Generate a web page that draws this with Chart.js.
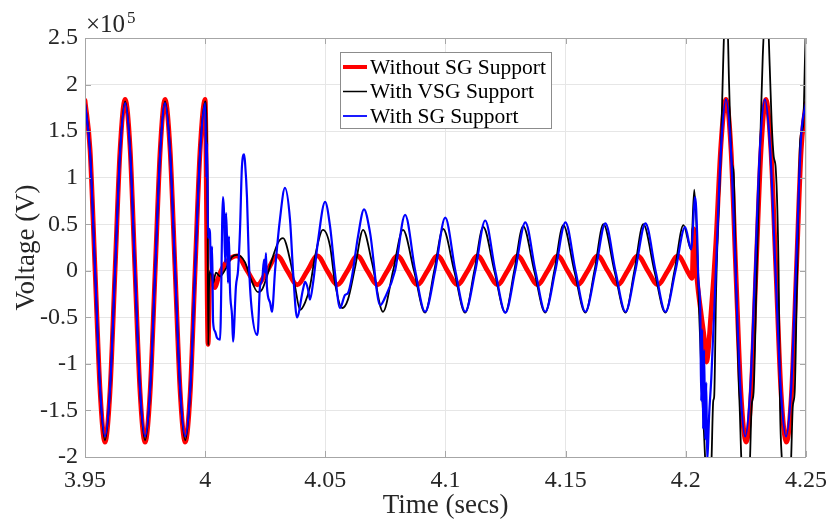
<!DOCTYPE html>
<html>
<head>
<meta charset="utf-8">
<script src="https://cdn.jsdelivr.net/npm/chart.js@4.4.1/dist/chart.umd.min.js"></script>
<style>
  body { margin: 0; background: #fff; }
  canvas { display: block; }
</style>
</head>
<body>
<canvas id="myChart" width="829" height="522"></canvas>
<script>
// values, voltage in units of 1e5 V
const xTickVals = [3.95, 4.0, 4.05, 4.1, 4.15, 4.2, 4.25];
const xTickLabels = ['3.95', '4', '4.05', '4.1', '4.15', '4.2', '4.25'];
const yTickVals = [-2, -1.5, -1, -0.5, 0, 0.5, 1, 1.5, 2, 2.5];
const yTickLabels = ['-2', '-1.5', '-1', '-0.5', '0', '0.5', '1', '1.5', '2', '2.5'];

const seriesLabels = ['Without SG Support', 'With VSG Support', 'With SG Support'];

// Without SG support (red)
const redT = [
  3.9500, 3.9521, 3.9542, 3.9563, 3.9583, 3.9604, 3.9625, 3.9646, 3.9667, 3.9688,
  3.9708, 3.9729, 3.9750, 3.9771, 3.9792, 3.9813, 3.9833, 3.9854, 3.9875, 3.9896,
  3.9917, 3.9938, 3.9958, 3.9979, 4.0000,
  4.0012, 4.0020, 4.0029, 4.0041, 4.0054, 4.0070, 4.0090,
  4.0133, 4.0175, 4.0217, 4.0258, 4.0300, 4.0342, 4.0383, 4.0425, 4.0467, 4.0508,
  4.0550, 4.0592, 4.0633, 4.0675, 4.0717, 4.0758, 4.0800, 4.0842, 4.0883, 4.0925,
  4.0967, 4.1008, 4.1050, 4.1092, 4.1133, 4.1175, 4.1217, 4.1258, 4.1300, 4.1342,
  4.1383, 4.1425, 4.1467, 4.1508, 4.1550, 4.1592, 4.1633, 4.1675, 4.1717, 4.1758,
  4.1800, 4.1842, 4.1883, 4.1925, 4.1967,
  4.2010, 4.2026, 4.2033, 4.2047, 4.2064, 4.2080, 4.2086, 4.2105, 4.2125, 4.2146,
  4.2167, 4.2188, 4.2208, 4.2229, 4.2251, 4.2272, 4.2292, 4.2313, 4.2333, 4.2354,
  4.2375, 4.2396, 4.2419, 4.2440, 4.2460, 4.2480, 4.2500
];
const redV = [
  1.83, 1.30, 0, -1.30, -1.84, -1.30, 0, 1.30, 1.84, 1.30,
  0, -1.30, -1.84, -1.30, 0, 1.30, 1.84, 1.30, 0, -1.30,
  -1.84, -1.30, 0, 1.30, 1.84,
  -0.79, -0.04, -0.06, -0.18, -0.08, 0.02, 0.10,
  0.16, 0, -0.15, 0, 0.16, 0, -0.15, 0, 0.16, 0,
  -0.15, 0, 0.16, 0, -0.15, 0, 0.16, 0, -0.15, 0,
  0.16, 0, -0.15, 0, 0.16, 0, -0.15, 0, 0.16, 0,
  -0.15, 0, 0.16, 0, -0.15, 0, 0.16, 0, -0.15, 0,
  0.16, 0, -0.15, 0, 0.16,
  -0.02, -0.08, 0.45, -0.10, -0.47, -0.80, -0.98, -0.45, 0.30, 1.35,
  1.84, 1.30, 0, -1.30, -1.84, -1.30, 0, 1.30, 1.84, 1.30,
  0, -1.30, -1.84, -1.30, 0, 1.30, 1.80
];

// With VSG support (black)
const vsgT = [
  3.9500, 3.9521, 3.9542, 3.9563, 3.9583, 3.9604, 3.9625, 3.9646, 3.9667, 3.9688,
  3.9708, 3.9729, 3.9750, 3.9771, 3.9792, 3.9813, 3.9833, 3.9854, 3.9875, 3.9896,
  3.9917, 3.9938, 3.9958, 3.9979, 4.0000,
  4.0010, 4.0013, 4.0016, 4.0024, 4.0033, 4.0045, 4.0062, 4.0083, 4.0112, 4.0133,
  4.0166, 4.0186, 4.0220, 4.0237, 4.0257, 4.0278, 4.0303, 4.0324, 4.0353, 4.0374,
  4.0395, 4.0416, 4.0436, 4.0457, 4.0490, 4.0520, 4.0540, 4.0570, 4.0594, 4.0624,
  4.0657, 4.0694, 4.0740,
  4.0782, 4.0823, 4.0869, 4.0915, 4.0953, 4.0990, 4.1036, 4.1082, 4.1120, 4.1157,
  4.1203, 4.1249, 4.1286, 4.1323, 4.1369, 4.1415, 4.1453, 4.1490, 4.1536, 4.1582,
  4.1620, 4.1657, 4.1703, 4.1749, 4.1786, 4.1823, 4.1869, 4.1915, 4.1953, 4.1990,
  4.2022, 4.2035, 4.2047, 4.2056, 4.2068, 4.2080, 4.2089, 4.2097, 4.2106, 4.2114,
  4.2118, 4.2126, 4.2147, 4.2155, 4.2163, 4.2172, 4.2180, 4.2191, 4.2199, 4.2208,
  4.2220, 4.2224, 4.2232, 4.2245, 4.2257, 4.2266, 4.2274, 4.2282, 4.2295, 4.2312,
  4.2320, 4.2330, 4.2340, 4.2349, 4.2357, 4.2366, 4.2374, 4.2386, 4.2392, 4.2400,
  4.2412, 4.2424, 4.2437, 4.2445, 4.2453, 4.2462, 4.2474, 4.2480, 4.2488, 4.2496,
  4.2500
];
const vsgV = [
  1.81, 1.29, 0, -1.29, -1.82, -1.29, 0, 1.29, 1.82, 1.29,
  0, -1.29, -1.82, -1.29, 0, 1.29, 1.82, 1.29, 0, -1.29,
  -1.82, -1.29, 0, 1.29, 1.82,
  0.69, -0.80, -0.17, 0.01, -0.13, -0.02, -0.06, 0.01, 0.15, 0.17,
  0.09, -0.06, -0.23, -0.20, -0.06, 0.12, 0.30, 0.35, 0.12, -0.17,
  -0.42, -0.34, -0.17, 0.15, 0.44, 0.26, -0.13, -0.40, -0.31, 0.04,
  0.44, 0.09, -0.44,
  0, 0.44, 0, -0.45, 0, 0.45, 0, -0.45, 0, 0.47,
  0, -0.45, 0, 0.48, 0, -0.45, 0, 0.49, 0, -0.45,
  0, 0.50, 0, -0.45, 0, 0.50, 0, -0.45, 0, 0.49,
  0.23, 0.87, 0.30, -0.50, -1.30, -2.00, -2.30, -2.35, -2.10, -1.40,
  -1.35, -0.20, 1.40, 2.20, 2.75, 2.75, 2.00, 1.17, 1.05, 0.00,
  -1.20, -1.46, -2.10, -2.50, -2.50, -2.10, -1.45, -1.30, 0.00, 1.60,
  2.30, 2.75, 2.75, 2.20, 1.60, 1.22, 1.10, 0.00, -1.46, -2.05,
  -2.50, -2.50, -2.10, -1.46, -1.30, -0.20, 1.30, 1.48, 1.55, 2.30,
  2.70
];

// With SG support (blue)
const sgT = [
  3.9500, 3.9521, 3.9542, 3.9563, 3.9583, 3.9604, 3.9625, 3.9646, 3.9667, 3.9688,
  3.9708, 3.9729, 3.9750, 3.9771, 3.9792, 3.9813, 3.9833, 3.9854, 3.9875, 3.9896,
  3.9917, 3.9938, 3.9958, 3.9979, 4.0000,
  4.0005, 4.0008, 4.0012, 4.0016, 4.0020, 4.0024, 4.0029, 4.0033, 4.0041, 4.0049,
  4.0062, 4.0074, 4.0078, 4.0083, 4.0087, 4.0091, 4.0095, 4.0099, 4.0103, 4.0112,
  4.0116, 4.0128, 4.0137, 4.0145, 4.0153, 4.0162, 4.0166, 4.0174, 4.0182, 4.0191,
  4.0216, 4.0220, 4.0228, 4.0237, 4.0245, 4.0249, 4.0253, 4.0257, 4.0270, 4.0278,
  4.0291, 4.0311, 4.0332, 4.0353, 4.0366, 4.0382, 4.0407, 4.0416, 4.0428, 4.0436,
  4.0449, 4.0470, 4.0499, 4.0520, 4.0540, 4.0561, 4.0582, 4.0594, 4.0611, 4.0636,
  4.0661, 4.0686, 4.0728, 4.0748,
  4.0790, 4.0832, 4.0874, 4.0915, 4.0957, 4.0999, 4.1041, 4.1082, 4.1124, 4.1165,
  4.1207, 4.1249, 4.1290, 4.1332, 4.1374, 4.1415, 4.1457, 4.1499, 4.1541, 4.1582,
  4.1624, 4.1665, 4.1707, 4.1749, 4.1790, 4.1832, 4.1874, 4.1915, 4.1957, 4.1997,
  4.2022, 4.2039, 4.2047, 4.2052, 4.2060, 4.2064, 4.2068, 4.2072, 4.2076, 4.2081,
  4.2085, 4.2089, 4.2097, 4.2106, 4.2125, 4.2146, 4.2167, 4.2188, 4.2207, 4.2227,
  4.2247, 4.2268, 4.2288, 4.2308, 4.2329, 4.2351, 4.2373, 4.2395, 4.2417, 4.2438,
  4.2458, 4.2480, 4.2500
];
const sgV = [
  1.80, 1.27, 0, -1.27, -1.78, -1.27, 0, 1.27, 1.80, 1.27,
  0, -1.27, -1.78, -1.27, 0, 1.27, 1.80, 1.27, 0, -1.27,
  -1.78, -1.27, 0, 1.27, 1.80,
  1.00, 1.37, 0.35, 0.45, 0.41, -0.02, 0.26, -0.55, -0.65, -0.72,
  -0.74, 0.79, 0.66, 0.09, 0.62, 0.33, -0.13, 0.37, -0.17, -0.49,
  -0.76, -0.17, 0.01, 0.44, 1.12, 1.25, 1.16, 0.79, 0.09, -0.34,
  -0.69, -0.63, -0.17, -0.10, 0.12, -0.02, 0.19, -0.17, -0.34, -0.44,
  0.01, 0.55, 0.89, 0.55, -0.02, -0.50, -0.20, -0.12, -0.20, -0.31,
  -0.13, 0.33, 0.74, 0.47, -0.02, -0.40, -0.26, -0.24, -0.06, 0.37,
  0.66, 0.41, -0.37, -0.29,
  0, 0.60, 0, -0.44, 0, 0.57, 0, -0.44, 0, 0.54,
  0, -0.45, 0, 0.52, 0, -0.44, 0, 0.52, 0, -0.44,
  0, 0.51, 0, -0.44, 0, 0.51, 0, -0.44, 0, 0.47,
  0.23, 0.79, 0.40, -0.10, -0.42, -1.40, -0.63, -1.70, -0.85, -1.81,
  -1.20, -2.05, -1.55, -1.15, 0.00, 1.30, 1.84, 1.27, 0, -1.27,
  -1.78, -1.27, 0, 1.30, 1.84, 1.30, 0, -1.27, -1.78, -1.27,
  0, 1.45, 1.80
];

const serif = "'Liberation Serif', 'Times New Roman', serif";
const textColor = '#262626';

function toPoints(ts, vs) {
  return ts.map((t, i) => ({ x: t, y: vs[i] }));
}

// frame, inward tick marks, exponent and the boxed legend inside the axes
const axesExtras = {
  id: 'axesExtras',
  afterDatasetsDraw(chart) {
    const { ctx, chartArea: a, scales } = chart;
    ctx.save();
    ctx.strokeStyle = '#a6a6a6';
    ctx.lineWidth = 1;
    ctx.strokeRect(a.left + 0.5, a.top + 0.5, a.right - a.left - 1, a.bottom - a.top);

    ctx.beginPath();
    xTickVals.forEach(v => {
      const px = Math.round(scales.x.getPixelForValue(v)) + 0.5;
      ctx.moveTo(px, a.bottom); ctx.lineTo(px, a.bottom - 6);
      ctx.moveTo(px, a.top); ctx.lineTo(px, a.top + 6);
    });
    yTickVals.forEach(v => {
      const py = Math.round(scales.y.getPixelForValue(v)) + 0.5;
      ctx.moveTo(a.left, py); ctx.lineTo(a.left + 6, py);
      ctx.moveTo(a.right, py); ctx.lineTo(a.right - 6, py);
    });
    ctx.stroke();

    // x10^5 multiplier
    ctx.fillStyle = textColor;
    ctx.textBaseline = 'alphabetic';
    ctx.textAlign = 'left';
    ctx.font = '25px ' + serif;
    ctx.fillText('\u00d710', 86, 32);
    ctx.font = '17px ' + serif;
    ctx.fillText('5', 127, 23);

    // legend
    const lx = 340, ly = 52, lw = 211, lh = 76;
    ctx.fillStyle = '#ffffff';
    ctx.fillRect(lx, ly, lw, lh);
    ctx.strokeStyle = '#8c8c8c';
    ctx.lineWidth = 1;
    ctx.strokeRect(lx + 0.5, ly + 0.5, lw, lh);
    ctx.font = '21.5px ' + serif;
    ctx.textBaseline = 'middle';
    chart.data.datasets.forEach((ds, i) => {
      const yy = 67 + i * 24.5;
      ctx.strokeStyle = ds.borderColor;
      ctx.lineWidth = ds.legendLineWidth;
      ctx.beginPath();
      ctx.moveTo(343, yy);
      ctx.lineTo(367, yy);
      ctx.stroke();
      ctx.fillStyle = '#000000';
      ctx.fillText(ds.label, 370, yy + 1);
    });
    ctx.restore();
  }
};

const config = {
  type: 'line',
  data: {
    datasets: [
      {
        label: seriesLabels[0],
        data: toPoints(redT, redV),
        borderColor: '#ff0000',
        borderWidth: 4.8,
        legendLineWidth: 4,
        order: 3
      },
      {
        label: seriesLabels[1],
        data: toPoints(vsgT, vsgV),
        borderColor: '#000000',
        borderWidth: 1.8,
        legendLineWidth: 1.5,
        order: 2
      },
      {
        label: seriesLabels[2],
        data: toPoints(sgT, sgV),
        borderColor: '#0000ff',
        borderWidth: 2.2,
        legendLineWidth: 1.8,
        order: 1
      }
    ]
  },
  options: {
    responsive: false,
    animation: false,
    events: [],
    layout: { padding: { top: 38, right: 23, left: 0, bottom: 0 } },
    elements: {
      point: { radius: 0 },
      line: { cubicInterpolationMode: 'monotone', borderJoinStyle: 'round', borderCapStyle: 'round' }
    },
    plugins: {
      legend: { display: false },
      tooltip: { enabled: false }
    },
    scales: {
      x: {
        type: 'linear',
        min: 3.95,
        max: 4.25,
        afterBuildTicks: (axis) => { axis.ticks = xTickVals.map(v => ({ value: v })); },
        afterFit: (axis) => { axis.height = 65; axis.paddingLeft = 0; axis.paddingRight = 0; },
        ticks: {
          autoSkip: false,
          maxRotation: 0,
          padding: 9,
          color: textColor,
          font: { family: serif, size: 24 },
          callback: (v, i) => xTickLabels[i]
        },
        grid: { color: '#e6e6e6', drawTicks: false },
        border: { display: false },
        title: {
          display: true,
          text: 'Time (secs)',
          color: textColor,
          font: { family: serif, size: 27 },
          padding: { top: 0, bottom: 0 }
        }
      },
      y: {
        type: 'linear',
        min: -2,
        max: 2.5,
        afterBuildTicks: (axis) => { axis.ticks = yTickVals.map(v => ({ value: v })); },
        afterFit: (axis) => { axis.width = 85; axis.paddingTop = 0; axis.paddingBottom = 0; },
        ticks: {
          autoSkip: false,
          padding: 7,
          color: textColor,
          font: { family: serif, size: 24 },
          callback: (v, i) => yTickLabels[i]
        },
        grid: { color: '#e6e6e6', drawTicks: false },
        border: { display: false },
        title: {
          display: true,
          text: 'Voltage (V)',
          color: textColor,
          font: { family: serif, size: 27 },
          padding: { top: 11, bottom: 0 }
        }
      }
    }
  },
  plugins: [axesExtras]
};

window.onload = function () {
  const ctx = document.getElementById('myChart');
  new Chart(ctx, config);
};
</script>
</body>
</html>
